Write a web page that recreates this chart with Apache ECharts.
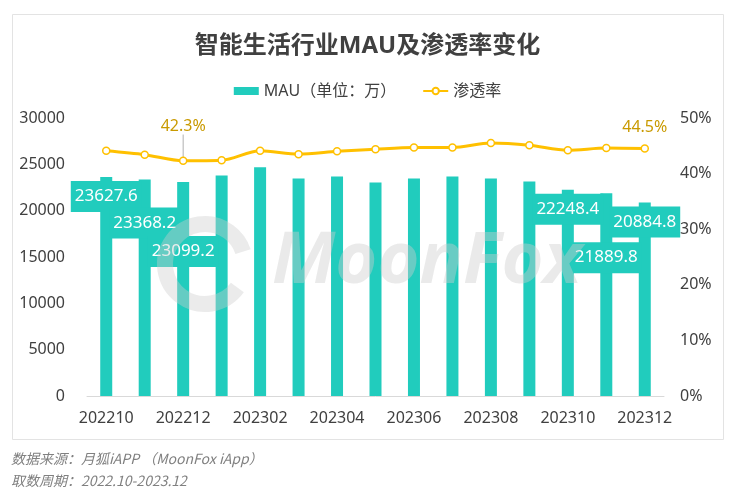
<!DOCTYPE html>
<html>
<head>
<meta charset="utf-8">
<script src="https://cdn.jsdelivr.net/npm/echarts@6/dist/echarts.min.js"></script>
<style>
html,body{margin:0;padding:0;background:#fff;}
#c{width:735px;height:504px;}
</style>
</head>
<body>
<div id="c"></div>
<script>
var categories = ['202210','202211','202212','202301','202302','202303','202304','202305','202306','202307','202308','202309','202310','202311','202312'];
var mauValues = [23627.6, 23368.2, 23099.2, 23800, 24680, 23480, 23700, 23030, 23480, 23700, 23480, 23160, 22248.4, 21889.8, 20884.8];
var rateValues = [44.1, 43.4, 42.3, 42.4, 44.1, 43.5, 44.0, 44.4, 44.7, 44.7, 45.5, 45.1, 44.2, 44.6, 44.5];
var leftTicks = [0, 5000, 10000, 15000, 20000, 25000, 30000];
var rightTicks = [0, 10, 20, 30, 40, 50];
var labeledBars = [0, 1, 2, 12, 13, 14];
var labeledRates = [2, 14];

var FONT = '"Noto Sans", "Noto Sans CJK SC", sans-serif';
var TEAL = '#21CCBD';
var GOLD = '#FFC000';
var barLabelOffset = {0: 0, 1: 24, 2: 50, 12: 0, 13: 45, 14: 0};

var barData = mauValues.map(function (v, i) {
  if (labeledBars.indexOf(i) < 0) return v;
  return {
    value: v,
    label: {
      show: true,
      position: 'insideTop',
      distance: 4,
      offset: [0, barLabelOffset[i]],
      color: '#fff',
      fontSize: 17,
      fontFamily: FONT,
      backgroundColor: TEAL,
      padding: [7, 4, 7, 4],
      formatter: function (p) { return p.value.toFixed(1); }
    }
  };
});

var rateData = rateValues.map(function (v, i) {
  if (labeledRates.indexOf(i) < 0) return v;
  var item = {
    value: v,
    label: {
      show: true,
      position: 'top',
      distance: 9,
      color: '#C99A00',
      fontSize: 16,
      fontFamily: FONT,
      formatter: function (p) { return p.value.toFixed(1) + '%'; }
    }
  };
  if (i === 2) {
    item.labelLine = { show: true, lineStyle: { color: '#b0b0b0', width: 1 } };
  }
  return item;
});

var chart = echarts.init(document.getElementById('c'), null, {renderer: 'canvas'});
chart.setOption({
  animation: false,
  backgroundColor: '#fff',
  textStyle: { fontFamily: FONT },
  title: {
    text: '智能生活行业MAU及渗透率变化',
    left: 'center',
    top: 29,
    textStyle: { fontSize: 24, fontWeight: 'bold', color: '#404040', fontFamily: FONT }
  },
  legend: {
    top: 78,
    left: 'center',
    itemGap: 26,
    itemWidth: 25,
    itemHeight: 8,
    textStyle: { fontSize: 16, color: '#404040', fontFamily: FONT },
    data: [
      { name: 'MAU（单位：万）', icon: 'rect' },
      { name: '渗透率' }
    ]
  },
  grid: { left: 87, right: 71, top: 118, bottom: 108, containLabel: false },
  xAxis: {
    type: 'category',
    data: categories,
    axisLine: { lineStyle: { color: '#d9d9d9' } },
    axisTick: { show: false },
    axisLabel: { interval: 1, fontSize: 16, color: '#404040', margin: 14, fontFamily: FONT }
  },
  yAxis: [
    {
      type: 'value', min: leftTicks[0], max: leftTicks[leftTicks.length - 1], interval: 5000,
      splitLine: { show: false }, axisLine: { show: false }, axisTick: { show: false },
      axisLabel: { fontSize: 16, color: '#404040', margin: 22, fontFamily: FONT,
        formatter: function (v) { return String(v); } }
    },
    {
      type: 'value', min: rightTicks[0], max: rightTicks[rightTicks.length - 1], interval: 10,
      splitLine: { show: false }, axisLine: { show: false }, axisTick: { show: false },
      axisLabel: { fontSize: 16, color: '#404040', margin: 16, formatter: '{value}%', fontFamily: FONT }
    }
  ],
  series: [
    {
      name: 'MAU（单位：万）',
      type: 'bar',
      data: barData,
      barWidth: 12,
      itemStyle: { color: TEAL },
      z: 2
    },
    {
      name: '渗透率',
      type: 'line',
      yAxisIndex: 1,
      data: rateData,
      smooth: 0.3,
      symbol: 'circle',
      symbolSize: 7,
      itemStyle: { color: '#fff', borderColor: GOLD, borderWidth: 1.5 },
      lineStyle: { color: GOLD, width: 3 },
      labelLayout: function (p) {
        return p.dataIndex === 2 ? { dy: -13 } : {};
      },
      z: 3
    }
  ],
  graphic: [
    {
      type: 'rect', left: 10, top: 12, silent: true, z: -10,
      shape: { width: 711, height: 425 },
      style: { fill: 'none', stroke: '#e3e3e3', lineWidth: 1 }
    },
    {
      type: 'arc', silent: true, z: 100,
      shape: { cx: 205, cy: 264, r: 40, startAngle: Math.PI * 0.2, endAngle: Math.PI * 1.9 },
      style: { fill: 'none', stroke: 'rgba(205,205,205,0.4)', lineWidth: 16 }
    },
    {
      type: 'text', left: 272, top: 226, silent: true, z: 100,
      style: {
        text: 'MoonFox', fill: 'rgba(205,205,205,0.42)',
        font: 'italic bold 72px "Noto Sans", sans-serif'
      }
    },
    {
      type: 'text', left: 11, top: 452, silent: true,
      style: { text: '数据来源：月狐iAPP （MoonFox iApp）', fill: '#808080', font: 'italic 14px "Noto Sans CJK SC", "Noto Sans", sans-serif' }
    },
    {
      type: 'text', left: 11, top: 474, silent: true,
      style: { text: '取数周期：2022.10-2023.12', fill: '#808080', font: 'italic 14px "Noto Sans CJK SC", "Noto Sans", sans-serif' }
    }
  ]
});
</script>
</body>
</html>
